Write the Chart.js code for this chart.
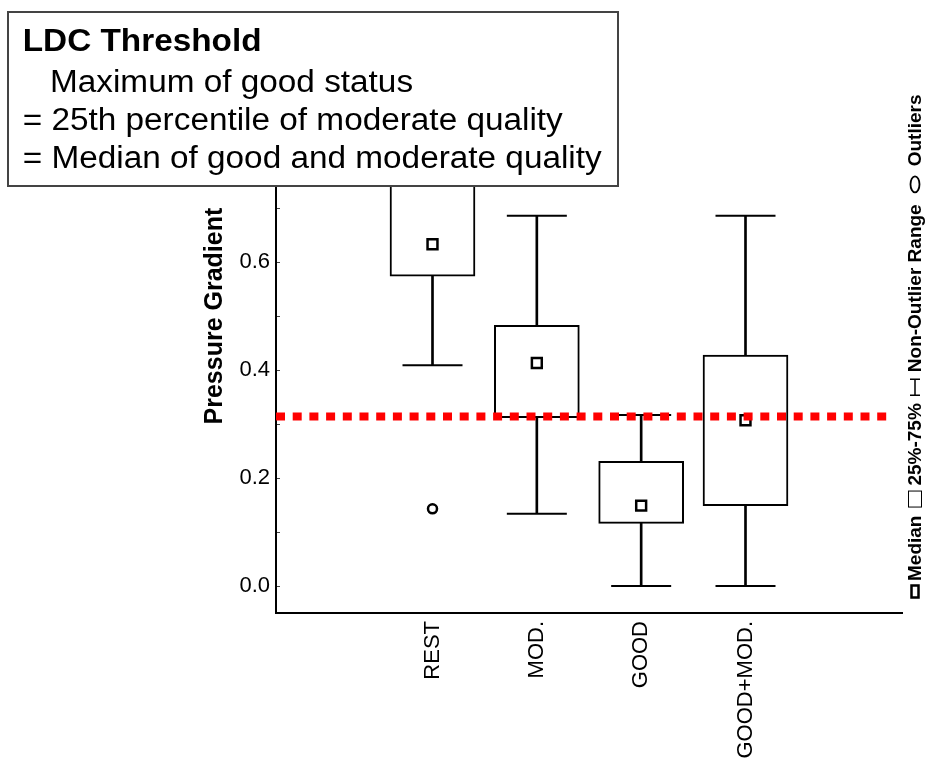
<!DOCTYPE html>
<html>
<head>
<meta charset="utf-8">
<script src="https://cdn.jsdelivr.net/npm/chart.js@4.4.1/dist/chart.umd.min.js"></script>
<style>
  html, body { margin: 0; padding: 0; background: #fff; }
  canvas { display: block; }
</style>
</head>
<body>
<canvas id="chart" width="926" height="764"></canvas>
<script>
// box plot values
const categories = ["REST", "MOD.", "GOOD", "GOOD+MOD."];
const whiskerLow = [0.409, 0.134, 0.0, 0.0];
const quartile1 = [0.574, 0.312, 0.116, 0.149];
const medians = [0.633, 0.413, 0.149, 0.307];
const quartile3 = [0.78, 0.483, 0.231, 0.428];
const whiskerHigh = [0.92, 0.686, 0.317, 0.686];
const outlierCategory = [0];
const outlierValues = [0.143];
const threshold = 0.314;
const yTickValues = [0.0, 0.2, 0.4, 0.6, 0.8, 1.0];
const minorTickValues = [0.0, 0.1, 0.2, 0.3, 0.4, 0.5, 0.6, 0.7, 0.8, 0.9, 1.0];

const noteLines = [
  "LDC Threshold",
  "Maximum of good status",
  "= 25th percentile of moderate quality",
  "= Median of good and moderate quality",
];

const FONT = "'Liberation Sans', Arial, sans-serif";
Chart.defaults.font.family = FONT;
Chart.defaults.color = "#000";

const byCategory = (vals) => categories.map((c, i) => ({ x: i, y: vals[i] }));
const floating = (lo, hi) => categories.map((c, i) => ({ x: i, y: [lo[i], hi[i]] }));

// note box, legend and small inner ticks
const extrasPlugin = {
  id: "extras",
  afterDraw(chart) {
    const ctx = chart.ctx;
    const yScale = chart.scales.y;
    const left = chart.chartArea.left;

    ctx.save();
    ctx.strokeStyle = "#444";
    ctx.lineWidth = 1;
    minorTickValues.forEach((v) => {
      const py = Math.round(yScale.getPixelForValue(v)) + 0.5;
      ctx.beginPath();
      ctx.moveTo(left + 1, py);
      ctx.lineTo(left + 4, py);
      ctx.stroke();
    });
    ctx.restore();

    // note box
    ctx.save();
    ctx.fillStyle = "#fff";
    ctx.fillRect(8, 12, 610, 174);
    ctx.strokeStyle = "#444";
    ctx.lineWidth = 2;
    ctx.strokeRect(8, 12, 610, 174);
    ctx.fillStyle = "#000";
    ctx.textBaseline = "alphabetic";
    ctx.textAlign = "left";
    ctx.font = "31px " + FONT;
    const sx = 579 / ctx.measureText(noteLines[3]).width;
    const pos = [[22.7, 51], [50, 92], [22.7, 130], [22.7, 168]];
    noteLines.forEach((t, i) => {
      ctx.font = (i === 0 ? "bold " : "") + "31px " + FONT;
      ctx.save();
      ctx.translate(pos[i][0], pos[i][1]);
      ctx.scale(sx, 1);
      ctx.fillText(t, 0, 0);
      ctx.restore();
    });
    ctx.restore();

    // rotated legend on the right
    ctx.save();
    ctx.translate(915, 599);
    ctx.rotate(-Math.PI / 2);
    ctx.font = "bold 19px " + FONT;
    ctx.fillStyle = "#000";
    ctx.strokeStyle = "#000";
    ctx.textBaseline = "middle";
    let p = 0;
    // median marker
    ctx.lineWidth = 2.5;
    ctx.strokeRect(p + 1.5, -3.5, 12, 7);
    p += 18;
    ctx.fillText("Median", p, 1);
    p += ctx.measureText("Median").width + 8;
    // box
    ctx.lineWidth = 1;
    ctx.strokeRect(p + 0.5, -6.5, 16, 13);
    p += 22;
    ctx.fillText("25%-75%", p, 1);
    p += ctx.measureText("25%-75%").width + 7;
    // whisker
    ctx.lineWidth = 1.5;
    ctx.beginPath();
    ctx.moveTo(p + 1, -5); ctx.lineTo(p + 1, 5);
    ctx.moveTo(p + 1, 0); ctx.lineTo(p + 17, 0);
    ctx.moveTo(p + 17, -5); ctx.lineTo(p + 17, 5);
    ctx.stroke();
    p += 24;
    ctx.fillText("Non-Outlier Range", p, 1);
    p += ctx.measureText("Non-Outlier Range").width + 12;
    // outlier
    ctx.lineWidth = 1.8;
    ctx.beginPath();
    ctx.ellipse(p + 8, 0, 8, 4.5, 0, 0, Math.PI * 2);
    ctx.stroke();
    p += 26;
    ctx.fillText("Outliers", p, 1);
    ctx.restore();
  },
};

new Chart(document.getElementById("chart"), {
  type: "bar",
  data: {
    datasets: [
      {
        type: "line",
        data: [{ x: -1.5, y: threshold }, { x: 4.38, y: threshold }],
        borderColor: "#ff0000",
        borderWidth: 8,
        borderDash: [9, 7.7],
        pointRadius: 0,
        order: 0,
      },
      {
        type: "scatter",
        data: byCategory(medians),
        pointStyle: "rect",
        pointRadius: 7,
        borderWidth: 2.5,
        borderColor: "#000",
        backgroundColor: "#fff",
        order: 1,
      },
      {
        type: "scatter",
        data: outlierCategory.map((c, i) => ({ x: c, y: outlierValues[i] })),
        pointStyle: "circle",
        pointRadius: 4.5,
        borderWidth: 2.5,
        borderColor: "#000",
        backgroundColor: "#fff",
        order: 1,
      },
      {
        type: "scatter",
        data: byCategory(whiskerLow).concat(byCategory(whiskerHigh)),
        pointStyle: "line",
        pointRadius: 30,
        borderWidth: 2,
        borderColor: "#000",
        order: 2,
      },
      {
        type: "bar",
        data: floating(quartile1, quartile3),
        barThickness: 85,
        backgroundColor: "#fff",
        borderColor: "#000",
        borderWidth: 2,
        borderSkipped: false,
        grouped: false,
        order: 3,
      },
      {
        type: "bar",
        data: floating(whiskerLow, quartile1),
        barThickness: 2,
        backgroundColor: "#000",
        borderWidth: 0,
        grouped: false,
        order: 4,
      },
      {
        type: "bar",
        data: floating(quartile3, whiskerHigh),
        barThickness: 2,
        backgroundColor: "#000",
        borderWidth: 0,
        grouped: false,
        order: 4,
      },
    ],
  },
  options: {
    responsive: false,
    animation: false,
    devicePixelRatio: 1,
    layout: { autoPadding: false, padding: { left: 196, right: 24, top: 17.3, bottom: 0 } },
    plugins: { legend: { display: false }, tooltip: { enabled: false } },
    scales: {
      x: {
        type: "linear",
        offset: false,
        min: -1.5,
        max: 4.5,
        grid: { display: false, drawTicks: false, tickLength: 0 },
        border: { display: true, color: "#000", width: 2 },
        afterBuildTicks: (s) => { s.ticks = categories.map((c, i) => ({ value: i })); },
        ticks: {
          autoSkip: false,
          maxRotation: 90,
          minRotation: 90,
          padding: 8,
          font: { size: 22 },
          color: "#000",
          callback: (v) => categories[v] ?? "",
        },
        afterFit: (s) => {
          s.height = 151;
        },
      },
      y: {
        min: -0.05,
        max: 1.05,
        grid: { display: false, drawTicks: false, tickLength: 0 },
        border: { display: true, color: "#000", width: 2 },
        afterBuildTicks: (s) => { s.ticks = yTickValues.map((v) => ({ value: v })); },
        ticks: {
          padding: 6,
          font: { size: 22 },
          color: "#000",
          callback: (v) => v.toFixed(1),
        },
        title: {
          display: true,
          text: "Pressure Gradient",
          font: { size: 25, weight: "bold" },
          color: "#000",
        },
        afterFit: (s) => {
          s.width = 80;
        },
      },
    },
  },
  plugins: [extrasPlugin],
});
</script>
</body>
</html>
